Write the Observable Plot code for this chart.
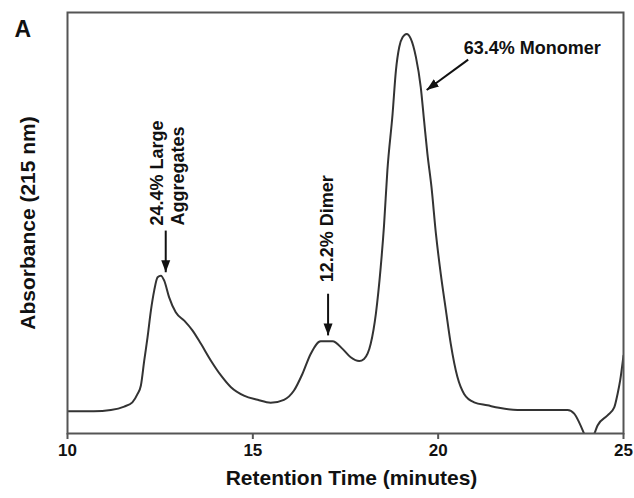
<!DOCTYPE html>
<html>
<head>
<meta charset="utf-8">
<script src="https://cdn.jsdelivr.net/npm/d3@7"></script>
<script src="https://cdn.jsdelivr.net/npm/@observablehq/plot@0.6"></script>
<style>
  body { margin: 0; background: #fff; }
  #chart { width: 634px; height: 498px; }
</style>
</head>
<body>
<div id="chart"></div>
<script>
// SEC chromatogram: retention time (min) vs absorbance at 215 nm (relative units)
const time = [10.00,10.71,11.17,11.53,11.75,11.89,11.98,12.07,12.16,12.25,12.34,12.43,12.52,12.61,12.74,12.92,13.15,13.37,13.60,13.87,14.14,14.41,14.76,15.13,15.48,15.84,16.11,16.34,16.56,16.83,17.15,17.42,17.64,17.87,18.00,18.18,18.32,18.45,18.54,18.63,18.77,18.86,18.95,19.04,19.15,19.26,19.40,19.53,19.62,19.71,19.82,19.94,20.07,20.21,20.34,20.52,20.70,20.97,21.33,21.64,22.14,23.49,23.67,23.80,23.94,24.06,24.21,24.30,24.57,24.75,24.84,24.91,25.00];
const absorbance = [5.3,5.3,5.6,6.4,7.4,9.4,11.4,17.3,22.9,29.2,34.0,37.1,37.5,36.3,32.4,28.8,26.8,24.5,21.3,17.3,13.8,11.0,9.0,8.0,7.3,8.0,10.2,14.2,18.9,21.9,21.9,20.1,18.1,17.2,17.7,21.3,28.5,39.5,49.5,62.5,75.9,86.2,91.8,94.1,94.9,93.8,89.4,82.3,74.3,66.4,58.5,47.4,37.9,29.2,21.3,13.4,9.4,7.4,6.7,6.1,5.6,5.6,4.7,2.7,-0.1,-2.5,-0.1,1.9,4.3,6.2,9.4,12.6,18.5];

const xTicks = [10, 15, 20, 25];
const xTitle = "Retention Time (minutes)";
const yTitle = "Absorbance (215 nm)";
const panelLabel = "A";

// Peak annotations (vertical labels for the first two peaks, horizontal for the monomer)
const peakLabels = ["24.4% Large\nAggregates", "12.2% Dimer", "63.4% Monomer"];
const labelTime = [12.67, 16.99, 20.69];
const labelAbs = [49.4, 35.9, 91.4];

// Arrows: tail (x1, y1) to head (x2, y2)
const arrowTime1 = [12.65, 17.03, 20.81];
const arrowAbs1 = [48.2, 33.2, 88.8];
const arrowTime2 = [12.65, 17.03, 19.69];
const arrowAbs2 = [38.3, 23.3, 81.6];

const trace = time.map((t, i) => ({t, a: absorbance[i]}));
const labels = peakLabels.map((text, i) => ({text, t: labelTime[i], a: labelAbs[i]}));
const arrows = arrowTime1.map((t1, i) => ({t1, a1: arrowAbs1[i], t2: arrowTime2[i], a2: arrowAbs2[i]}));

// Filled triangular arrowhead
const solidHead = (color, context) => {
  const m = d3.create("svg:marker")
    .attr("viewBox", "-12 -5 12 10")
    .attr("markerWidth", 12)
    .attr("markerHeight", 10)
    .attr("markerUnits", "userSpaceOnUse")
    .attr("refX", 0)
    .attr("refY", 0)
    .attr("orient", "auto")
    .attr("fill", color)
    .attr("stroke", "none");
  m.append("path").attr("d", "M-12,-4.5L0,0L-12,4.5Z");
  return m.node();
};

const font = "'Liberation Sans', Arial, Helvetica, sans-serif";

const chart = Plot.plot({
  width: 634,
  height: 498,
  marginLeft: 67,
  marginRight: 11,
  marginTop: 12,
  marginBottom: 65,
  style: {fontFamily: font, background: "#fff", color: "#111", overflow: "visible"},
  x: {domain: [10, 25], label: null},
  y: {domain: [0, 100], axis: null},
  marks: [
    Plot.line(trace, {x: "t", y: "a", stroke: "#333", strokeWidth: 2, curve: "monotone-x", clip: true}),
    Plot.frame({stroke: "#555", strokeWidth: 2}),
    Plot.axisX({ticks: xTicks, tickSize: 6, tickFormat: () => "", stroke: "#555", strokeWidth: 2, label: null}),
    Plot.text(xTicks, {x: d => d, text: d => String(d), frameAnchor: "bottom", dy: 22, fontSize: 17, fontWeight: "bold"}),
    Plot.text([xTitle], {text: d => d, frameAnchor: "bottom", textAnchor: "middle", dx: 6, dy: 51, fontSize: 21, fontWeight: "bold"}),
    Plot.text([yTitle], {text: d => d, frameAnchor: "left", textAnchor: "middle", rotate: -90, dx: -39, fontSize: 21, fontWeight: "bold"}),
    Plot.text([panelLabel], {text: d => d, frameAnchor: "top-left", textAnchor: "start", dx: -53, dy: 8, fontSize: 23, fontWeight: "bold"}),
    Plot.text(labels.slice(0, 2), {x: "t", y: "a", text: "text", rotate: -90, textAnchor: "start", lineAnchor: "middle", lineHeight: 1.17, fontSize: 18, fontWeight: "bold"}),
    Plot.text(labels.slice(2), {x: "t", y: "a", text: "text", textAnchor: "start", fontSize: 18, fontWeight: "bold"}),
    Plot.link(arrows, {x1: "t1", y1: "a1", x2: "t2", y2: "a2", stroke: "#111", strokeWidth: 2, markerEnd: solidHead})
  ]
});

document.getElementById("chart").append(chart);
</script>
</body>
</html>
